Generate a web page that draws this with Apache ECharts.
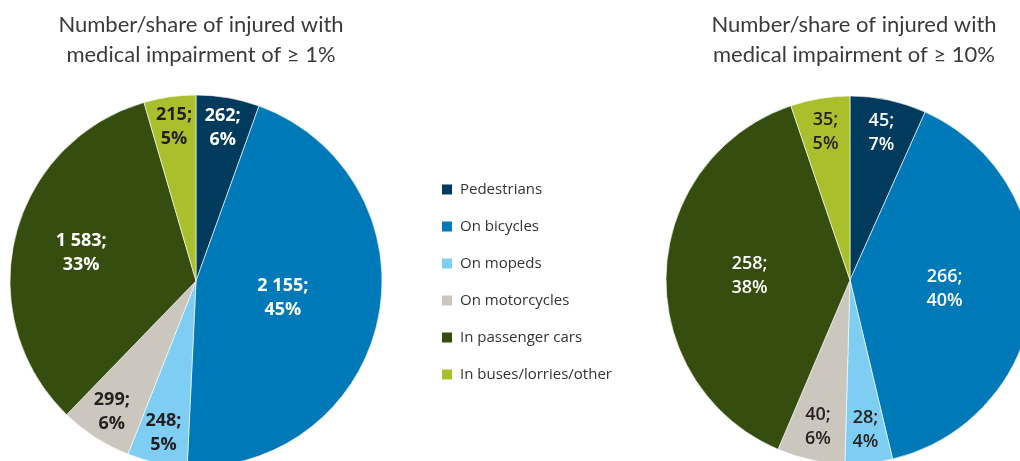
<!DOCTYPE html>
<html><head><meta charset="utf-8">
<script src="https://cdn.jsdelivr.net/npm/echarts@6/dist/echarts.min.js"></script>
<style>html,body{margin:0;padding:0;background:#fff}#c{width:1020px;height:461px}</style>
</head><body><div id="c"></div>
<script>
const categories = ["Pedestrians","On bicycles","On mopeds","On motorcycles","In passenger cars","In buses/lorries/other"];
const valuesImpair1 = [262, 2155, 248, 299, 1583, 215];
const valuesImpair10 = [45, 266, 28, 40, 258, 35];
const titleLeft = "Number/share of injured with\nmedical impairment of \u2265 1%";
const titleRight = "Number/share of injured with\nmedical impairment of \u2265 10%";

const colors = ['#003a5d','#0079b8','#7ecef4','#cbc7bf','#354e0f','#a9c02c'];
const labelColors = ['#ffffff','#ffffff','#231f20','#231f20','#ffffff','#231f20'];
const labelFracLeft = [0.82, 0.46, 0.82, 0.82, 0.62, 0.82];
const labelFracRight = [0.80, 0.50, 0.80, 0.80, 0.53, 0.80];

function fmt(v){ return String(v).replace(/\B(?=(\d{3})+(?!\d))/g, ' '); }

function pieSeries(values, center, R, fracs, weight){
  const total = values.reduce((a,b)=>a+b,0);
  const series = [];
  series.push({
    type:'pie', center:center, radius:[0,R], startAngle:90, clockwise:true,
    silent:true, animation:false, label:{show:false}, labelLine:{show:false},
    itemStyle:{borderColor:'#ffffff', borderWidth:0.6},
    data: values.map((v,i)=>({name:categories[i], value:v, itemStyle:{color:colors[i]}}))
  });
  const uniq = [...new Set(fracs)];
  uniq.forEach(f=>{
    const rad = f >= 0.5 ? [(2*f-1)*R, R] : [0, 2*f*R];
    series.push({
      type:'pie', center:center, radius:rad, startAngle:90, clockwise:true,
      silent:true, animation:false, legendHoverLink:false,
      itemStyle:{color:'rgba(0,0,0,0)', borderWidth:0},
      labelLine:{show:false},
      data: values.map((v,i)=>({
        name:categories[i], value:v,
        itemStyle:{color:'rgba(0,0,0,0)'},
        label:{show: fracs[i]===f, position:'inside', color:labelColors[i],
          fontFamily:'Open Sans', fontSize:18, fontWeight:weight, lineHeight:24,
          formatter: fmt(v)+';\n'+Math.round(v/total*100)+'%'}
      }))
    });
  });
  return series;
}

const chart = echarts.init(document.getElementById('c'), null, {renderer:'canvas'});
chart.setOption({
  backgroundColor:'#ffffff',
  animation:false,
  title:[
    {text:titleLeft, left:196, top:5, textAlign:'center',
     textStyle:{fontFamily:'Lato', fontSize:22, fontWeight:'normal', color:'#3a3a3a', lineHeight:30}},
    {text:titleRight, left:849, top:5, textAlign:'center',
     textStyle:{fontFamily:'Lato', fontSize:22, fontWeight:'normal', color:'#3a3a3a', lineHeight:30}}
  ],
  legend:{
    orient:'vertical', left:440, top:182, padding:0, itemWidth:12, itemHeight:12, itemGap:22,
    icon:'rect', selectedMode:false,
    textStyle:{fontFamily:'Open Sans', fontSize:15, color:'#333333', padding:[0,0,0,2]},
    data: categories.map((c,i)=>({name:c, itemStyle:{color:colors[i]}}))
  },
  series: [].concat(
    pieSeries(valuesImpair1, [196, 281], 186, labelFracLeft, 'bold'),
    pieSeries(valuesImpair10, [850, 280], 184, labelFracRight, 600)
  )
});
</script></body></html>
